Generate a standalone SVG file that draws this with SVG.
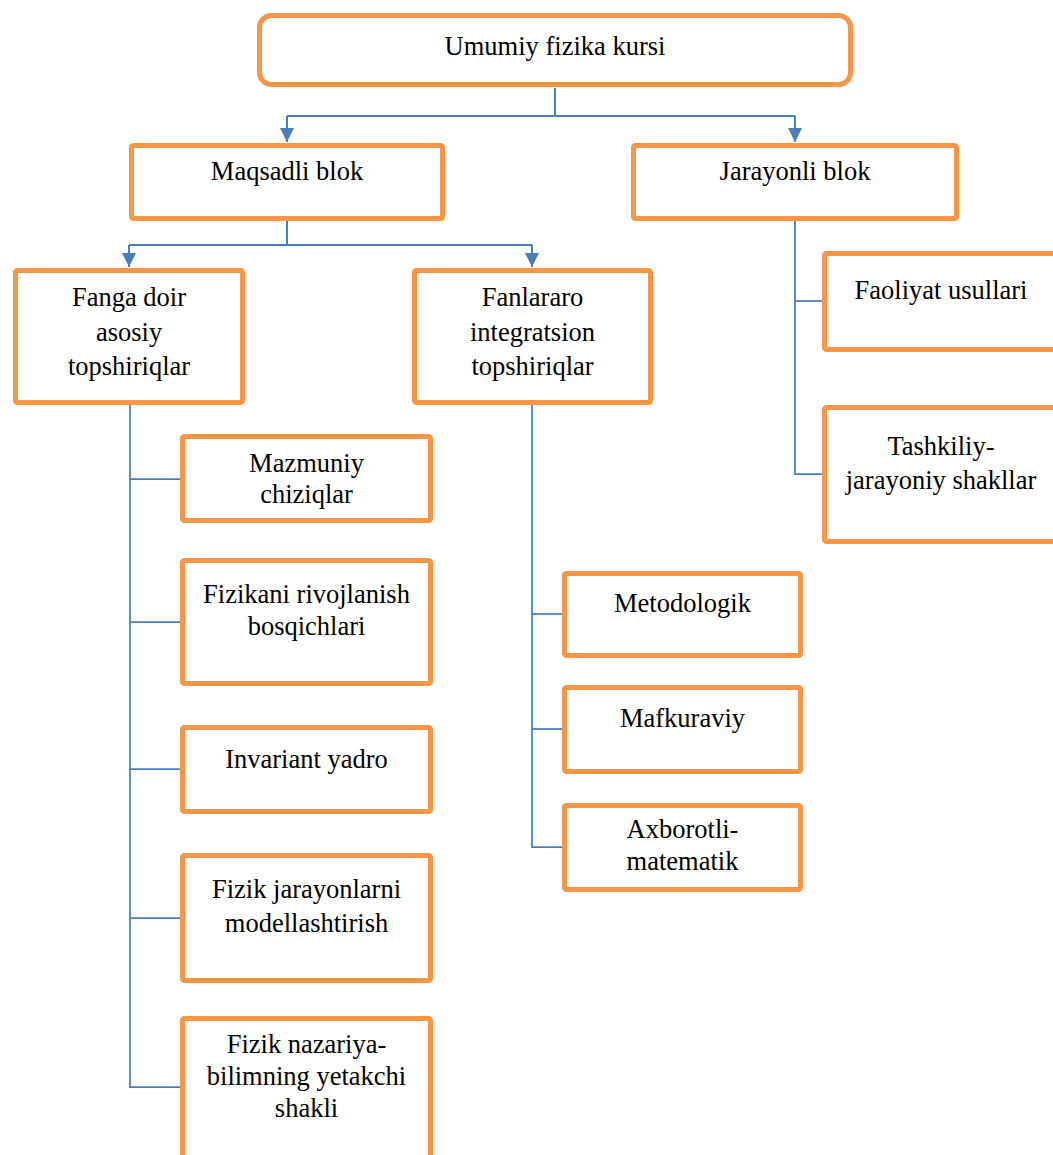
<svg xmlns="http://www.w3.org/2000/svg" width="1053" height="1155" viewBox="0 0 1053 1155">
  <style>
    .box { fill: #FFFFFF; stroke: #F79646; stroke-width: 5; }
    .lbl { font-family: "Liberation Serif", "Times New Roman", serif; font-size: 26.5px; fill: #000000; text-anchor: middle; }
    .link { fill: none; stroke: #4A7EBB; stroke-width: 2; }
    .branch { fill: none; stroke: #4A7EBB; stroke-width: 1.75; }
  </style>
  <defs>
    <marker id="arrow" markerUnits="userSpaceOnUse" markerWidth="14" markerHeight="14" viewBox="0 0 14 14" refX="14" refY="7" orient="auto">
      <path d="M0,0 L14,7 L0,14 Z" fill="#4A7EBB"/>
    </marker>
  </defs>
  <rect width="1053" height="1155" fill="#FFFFFF"/>

  <!-- connectors -->
  <g id="connectors">
    <!-- course to the two blocks -->
    <path class="link" d="M555,88 V116"/>
    <path class="link" d="M287,116 H795"/>
    <path class="link" d="M287,116 V142" marker-end="url(#arrow)"/>
    <path class="link" d="M795,116 V142" marker-end="url(#arrow)"/>
    <!-- goal block to task groups -->
    <path class="link" d="M287,221 V245"/>
    <path class="link" d="M129,245 H532"/>
    <path class="link" d="M129,245 V267" marker-end="url(#arrow)"/>
    <path class="link" d="M532,245 V267" marker-end="url(#arrow)"/>
    <!-- process block branches -->
    <path class="branch" d="M795,221 V474 H822"/>
    <path class="branch" d="M795,301 H822"/>
    <!-- core tasks branches -->
    <path class="branch" d="M130,405 V1087 H180"/>
    <path class="branch" d="M130,479 H180"/>
    <path class="branch" d="M130,622 H180"/>
    <path class="branch" d="M130,769 H180"/>
    <path class="branch" d="M130,918 H180"/>
    <!-- interdisciplinary tasks branches -->
    <path class="branch" d="M532,405 V847 H562"/>
    <path class="branch" d="M532,614 H562"/>
    <path class="branch" d="M532,729 H562"/>
  </g>

  <g id="course">
    <rect class="box" x="259.5" y="15.5" width="591" height="69" rx="12"/>
    <text class="lbl" x="555" y="55">Umumiy fizika kursi</text>
  </g>

  <g id="goal-block">
    <rect class="box" x="131.5" y="145.5" width="311" height="73" rx="2"/>
    <text class="lbl" x="287" y="180">Maqsadli blok</text>
  </g>

  <g id="process-block">
    <rect class="box" x="633.5" y="145.5" width="323" height="73" rx="2"/>
    <text class="lbl" x="795" y="180">Jarayonli blok</text>
  </g>

  <g id="core-tasks">
    <rect class="box" x="15.5" y="270.5" width="227" height="132" rx="2"/>
    <text class="lbl" x="129" y="306">Fanga doir</text>
    <text class="lbl" x="129" y="341">asosiy</text>
    <text class="lbl" x="129" y="375">topshiriqlar</text>
  </g>

  <g id="integration-tasks">
    <rect class="box" x="414.5" y="270.5" width="236" height="132" rx="2"/>
    <text class="lbl" x="532.5" y="306">Fanlararo</text>
    <text class="lbl" x="532.5" y="341">integratsion</text>
    <text class="lbl" x="532.5" y="375">topshiriqlar</text>
  </g>

  <g id="activity-methods">
    <rect class="box" x="824.5" y="253.5" width="235" height="96" rx="2"/>
    <text class="lbl" x="941" y="299">Faoliyat usullari</text>
  </g>

  <g id="organisational-forms">
    <rect class="box" x="824.5" y="407.5" width="235" height="134" rx="2"/>
    <text class="lbl" x="941" y="455">Tashkiliy-</text>
    <text class="lbl" x="941" y="489">jarayoniy shakllar</text>
  </g>

  <g id="content-lines">
    <rect class="box" x="182.5" y="436.5" width="248" height="84" rx="2"/>
    <text class="lbl" x="306.5" y="472">Mazmuniy</text>
    <text class="lbl" x="306.5" y="503">chiziqlar</text>
  </g>

  <g id="development-stages">
    <rect class="box" x="182.5" y="560.5" width="248" height="123" rx="2"/>
    <text class="lbl" x="306.5" y="603">Fizikani rivojlanish</text>
    <text class="lbl" x="306.5" y="635">bosqichlari</text>
  </g>

  <g id="invariant-core">
    <rect class="box" x="182.5" y="727.5" width="248" height="84" rx="2"/>
    <text class="lbl" x="306.5" y="768">Invariant yadro</text>
  </g>

  <g id="process-modelling">
    <rect class="box" x="182.5" y="855.5" width="248" height="125" rx="2"/>
    <text class="lbl" x="306.5" y="898">Fizik jarayonlarni</text>
    <text class="lbl" x="306.5" y="932">modellashtirish</text>
  </g>

  <g id="theory-form">
    <rect class="box" x="182.5" y="1018.5" width="248" height="150" rx="2"/>
    <text class="lbl" x="306.5" y="1053">Fizik nazariya-</text>
    <text class="lbl" x="306.5" y="1085">bilimning yetakchi</text>
    <text class="lbl" x="306.5" y="1117">shakli</text>
  </g>

  <g id="methodological">
    <rect class="box" x="564.5" y="573.5" width="236" height="82" rx="2"/>
    <text class="lbl" x="682.5" y="612">Metodologik</text>
  </g>

  <g id="ideological">
    <rect class="box" x="564.5" y="687.5" width="236" height="84" rx="2"/>
    <text class="lbl" x="682.5" y="727">Mafkuraviy</text>
  </g>

  <g id="info-math">
    <rect class="box" x="564.5" y="805.5" width="236" height="84" rx="2"/>
    <text class="lbl" x="682.5" y="838">Axborotli-</text>
    <text class="lbl" x="682.5" y="870">matematik</text>
  </g>
</svg>
